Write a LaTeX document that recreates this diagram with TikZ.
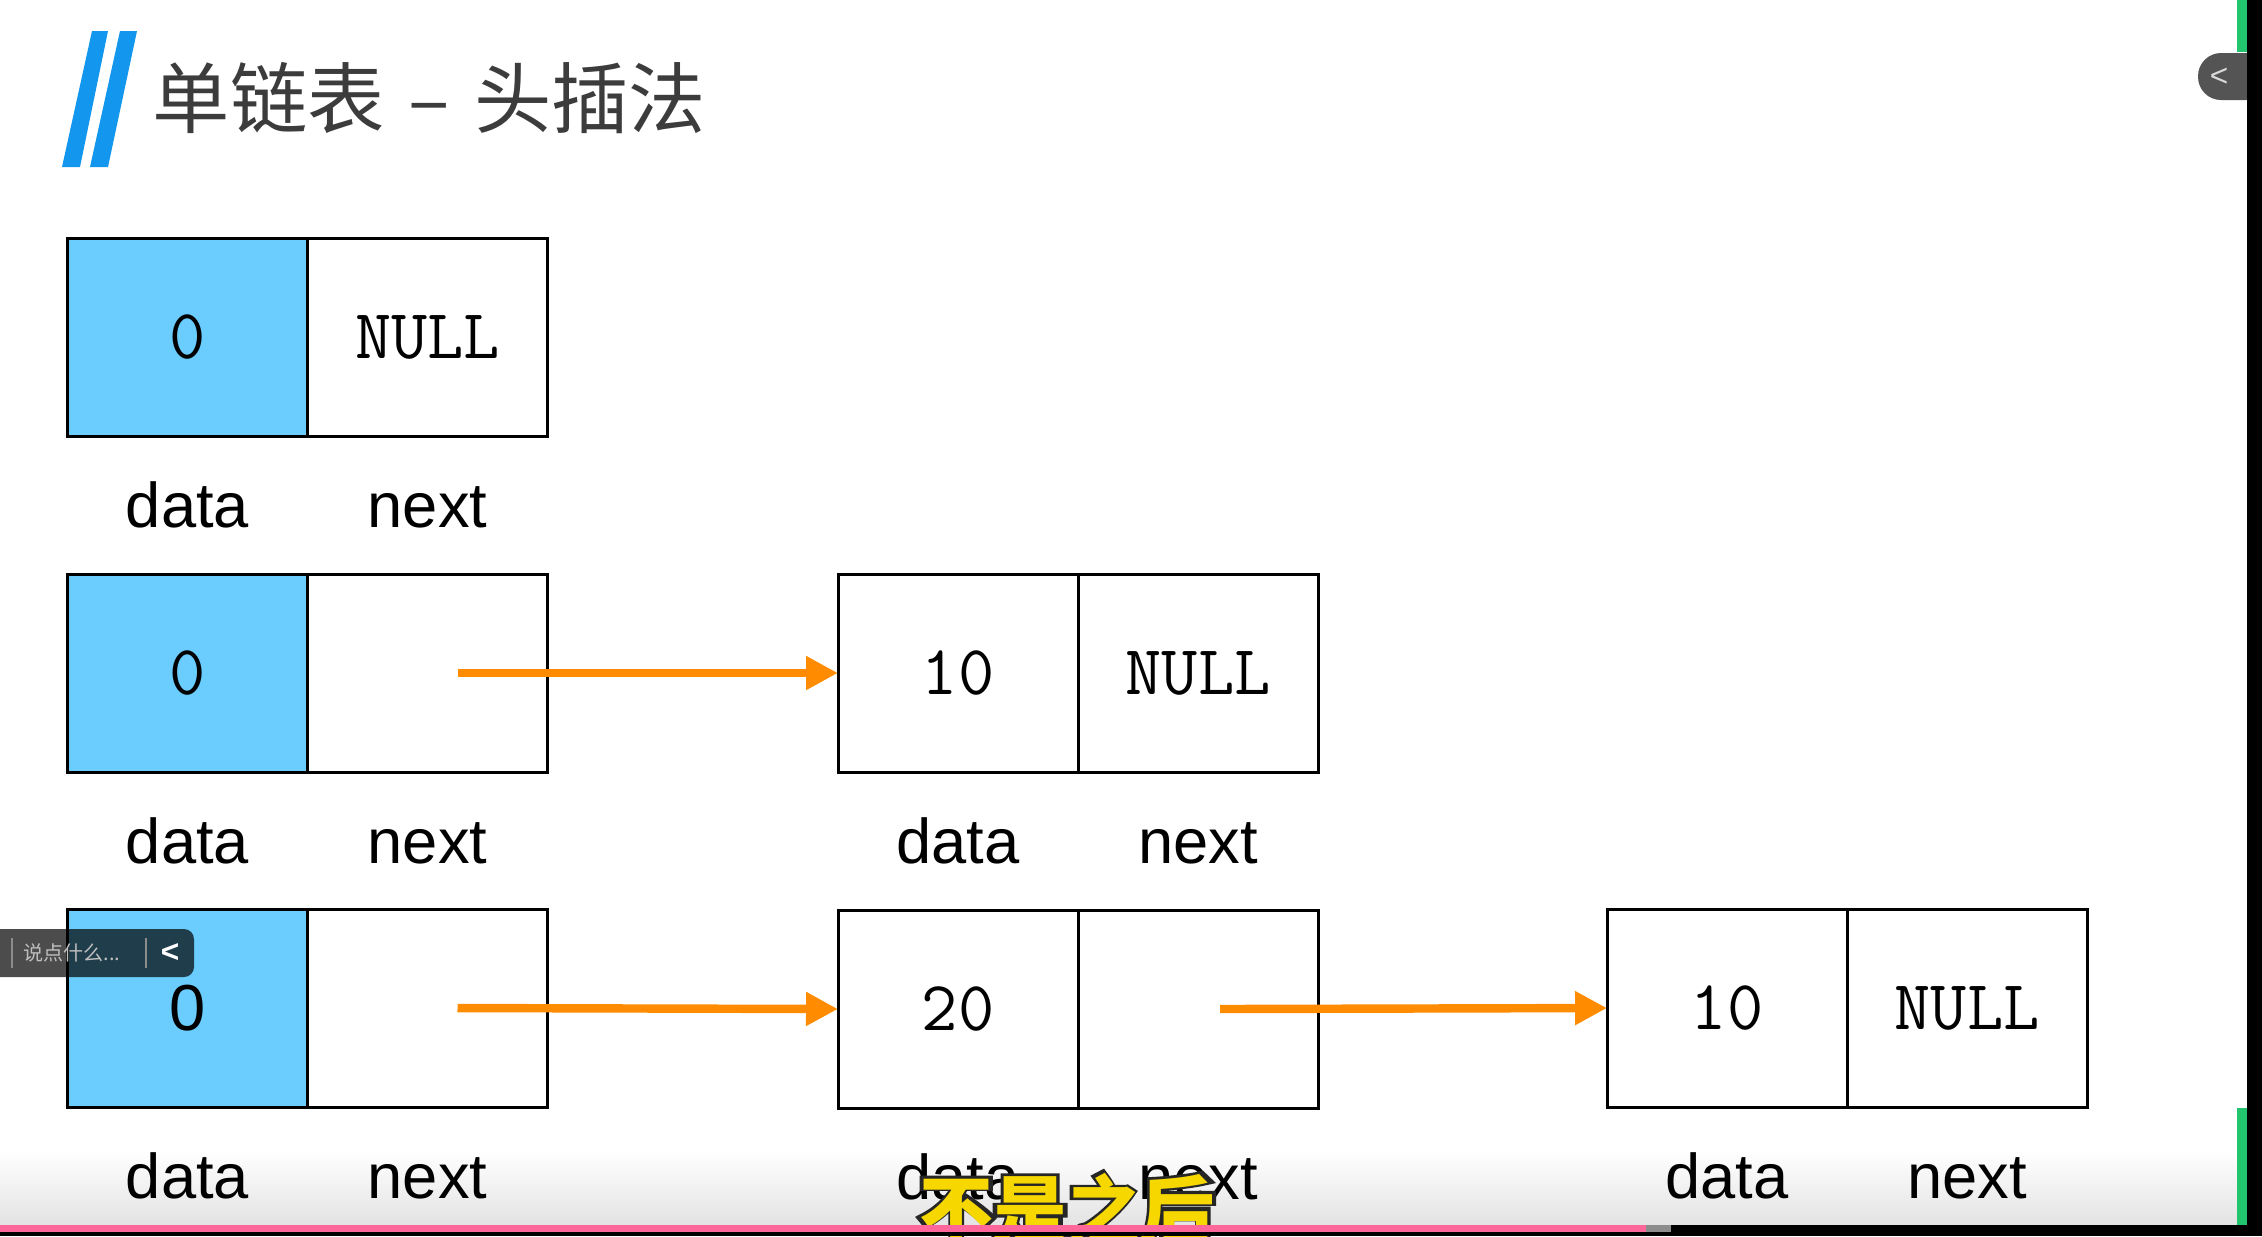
\documentclass[tikz,border=0pt]{standalone}
\usepackage{fontspec}
\setsansfont{Liberation Sans}
\newfontfamily\cjkfont{Noto Sans CJK SC}
\newfontfamily\subbackfont[FakeBold=13]{Noto Sans CJK SC}
\usetikzlibrary{positioning, arrows.meta}
\definecolor{headblue}{RGB}{106,205,253}
\definecolor{ptrorange}{RGB}{255,140,0}
\definecolor{barblue}{RGB}{18,150,238}
\definecolor{titlegray}{RGB}{60,60,60}
\definecolor{barpink}{RGB}{255,102,153}
\definecolor{subyellow}{RGB}{246,216,0}
\definecolor{sidegreen}{RGB}{34,197,110}
\tikzset{
  cell/.style={
    rectangle, draw=black, line width=0.85pt, fill=white,
    minimum width=2.4cm, minimum height=1.98cm, inner sep=0pt, outer sep=0pt,
    font=\ttfamily\fontsize{20}{24}\selectfont
  },
  headcell/.style={cell, fill=headblue},
  field/.style={font=\sffamily\fontsize{18}{22}\selectfont, inner sep=0pt},
  ptr/.style={
    -{Triangle[length=3.2mm, width=3.2mm]}, line width=2.4pt, color=ptrorange
  }
}

\begin{document}
\begin{tikzpicture}[x=0.1mm, y=-0.1mm]
    \useasboundingbox (0,0) rectangle (2262,1236);

    % player background
    \shade[top color=white, bottom color=black!11] (0,1150) rectangle (2247,1225);

    % Title
    \fill[barblue] (92,31) -- (108,31) -- (80,167) -- (62,167) -- cycle;
    \fill[barblue] (120,31) -- (137,31) -- (108,167) -- (90,167) -- cycle;
    \node[anchor=west, inner sep=0pt, text=titlegray, font=\cjkfont\fontsize{22}{26}\selectfont] (title) at (152,98) {单链表\hspace{2.4mm}–\hspace{2.4mm}头插法};

    % Row 1: head only
    \node[headcell] (h1d) at (187.5,337) {0};
    \node[cell, right=0pt of h1d] (h1n) {NULL};
    \node[field, below=9.1mm of h1d.south, anchor=base] (h1dl) {data};
    \node[field, below=9.1mm of h1n.south, anchor=base] (h1nl) {next};

    % Row 2: head -> 10
    \node[headcell] (h2d) at (187.5,673) {0};
    \node[cell, right=0pt of h2d] (h2n) {};
    \node[field, below=9.1mm of h2d.south, anchor=base] (h2dl) {data};
    \node[field, below=9.1mm of h2n.south, anchor=base] (h2nl) {next};
    \node[cell] (a2d) at (958,673) {10};
    \node[cell, right=0pt of a2d] (a2n) {NULL};
    \node[field, below=9.1mm of a2d.south, anchor=base] (a2dl) {data};
    \node[field, below=9.1mm of a2n.south, anchor=base] (a2nl) {next};

    % Row 3: head -> 20 -> 10
    \node[headcell, font=\sffamily\fontsize{18.5}{22}\selectfont] (h3d) at (187.5,1008) {0};
    \node[cell, right=0pt of h3d] (h3n) {};
    \node[field, below=9.1mm of h3d.south, anchor=base] (h3dl) {data};
    \node[field, below=9.1mm of h3n.south, anchor=base] (h3nl) {next};
    \node[cell] (b3d) at (958,1009) {20};
    \node[cell, right=0pt of b3d] (b3n) {};
    \node[field, below=9.1mm of b3d.south, anchor=base] (b3dl) {data};
    \node[field, below=9.1mm of b3n.south, anchor=base] (b3nl) {next};
    \node[cell] (a3d) at (1727,1008) {10};
    \node[cell, right=0pt of a3d] (a3n) {NULL};
    \node[field, below=9.1mm of a3d.south, anchor=base] (a3dl) {data};
    \node[field, below=9.1mm of a3n.south, anchor=base] (a3nl) {next};

    % Pointers
    \draw[ptr] ([xshift=3mm]h2n.center) -- (a2d.west);
    \draw[ptr] ([xshift=3mm]h3n.center) -- (b3d.west);
    \draw[ptr] ([xshift=2.2mm]b3n.center) -- (a3d.west);

    % player overlay
    \fill[black, fill opacity=0.7, rounded corners=1mm] (-20,929) rectangle (194,977);
    \draw[black!45, line width=0.6pt] (12,938) -- (12,968);
    \draw[black!45, line width=0.6pt] (146,938) -- (146,968);
    \node[anchor=west, inner sep=0pt, text=black!25, font=\cjkfont\fontsize{5.7}{6}\selectfont] (chat) at (23,953) {说点什么...};
    \node[inner sep=0pt, text=white, font=\sffamily\bfseries\fontsize{9}{9}\selectfont] (chatarrow) at (170,953) {<};

    \fill[black!67, rounded corners=2.3mm] (2198,53) rectangle (2290,100);
    \node[inner sep=0pt, text=black!15, font=\sffamily\fontsize{9}{9}\selectfont] (tabarrow) at (2219,77) {<};
    \fill[sidegreen] (2237,0) rectangle (2247,52);
    \fill[sidegreen] (2237,1108) rectangle (2247,1225);
    \fill[black] (2247,0) rectangle (2262,1236);

    \node[inner sep=0pt, text=black!85, font=\subbackfont\fontsize{21}{24}\selectfont] (subtitleback) at (1067,1209) {不是之后};
    \node[inner sep=0pt, text=subyellow, font=\cjkfont\bfseries\fontsize{21}{24}\selectfont] (subtitle) at (1067,1209) {不是之后};

    \fill[black] (0,1225) rectangle (2262,1236);
    \fill[barpink] (0,1225) rectangle (1646,1232);
    \fill[black!45] (1646,1225) rectangle (1671,1232);

\end{tikzpicture}
\end{document}
